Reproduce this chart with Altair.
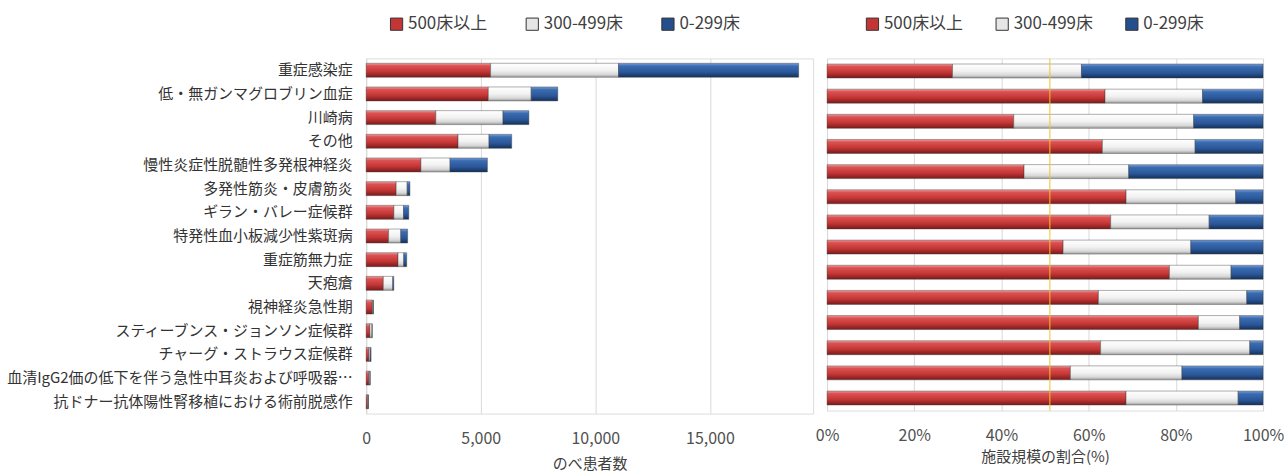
import altair as alt
import pandas as pd

categories = [
    "重症感染症",
    "低・無ガンマグロブリン血症",
    "川崎病",
    "その他",
    "慢性炎症性脱髄性多発根神経炎",
    "多発性筋炎・皮膚筋炎",
    "ギラン・バレー症候群",
    "特発性血小板減少性紫斑病",
    "重症筋無力症",
    "天疱瘡",
    "視神経炎急性期",
    "スティーブンス・ジョンソン症候群",
    "チャーグ・ストラウス症候群",
    "血清IgG2価の低下を伴う急性中耳炎および呼吸器…",
    "抗ドナー抗体陽性腎移植における術前脱感作",
]
beds = ["500床以上", "300-499床", "0-299床"]
v500 = [5430, 5330, 3040, 4010, 2390, 1310, 1210, 980, 1390, 750, 270, 165, 120, 120, 60]
v300 = [5580, 1870, 2930, 1350, 1270, 480, 420, 530, 250, 410, 30, 90, 55, 45, 30]
v0 = [7860, 1160, 1130, 990, 1630, 120, 230, 300, 130, 45, 17, 8, 40, 10, 10]
share_categories = categories[:14]
avg_share = [0.511]
count_ticks = [0, 5000, 10000, 15000]
share_ticks = [0, 0.2, 0.4, 0.6, 0.8, 1.0]

rows = []
for i, c in enumerate(categories):
    for j, (s, vals) in enumerate(zip(beds, [v500, v300, v0])):
        rows.append({"cat": c, "series": s, "order": j, "value": vals[i]})
df = pd.DataFrame(rows)
df_right = df[df["cat"].isin(share_categories)]

FONT = "Noto Sans CJK JP"


def grad(stops):
    return {
        "gradient": "linear",
        "x1": 0, "x2": 0, "y1": 0, "y2": 1,
        "stops": [{"offset": o, "color": c} for o, c in stops],
    }


red_g = grad([(0, "#f0a0a0"), (0.18, "#dc5252"), (0.6, "#c43636"), (1, "#7a1a1a")])
white_g = grad([(0, "#ffffff"), (0.5, "#f2f2f2"), (0.8, "#d8d8d8"), (1, "#9a9a9a")])
blue_g = grad([(0, "#7aa0d8"), (0.2, "#3a6cb2"), (0.65, "#2a5696"), (1, "#14305a")])

bar_color = {
    "condition": [
        {"test": "datum.series === '500床以上'", "value": red_g},
        {"test": "datum.series === '300-499床'", "value": white_g},
    ],
    "value": blue_g,
}
legend_scale = alt.Scale(domain=beds, range=["#c43636", "#e6e6e6", "#244e8c"])


def legend(x, pad):
    return alt.Legend(
        title=None, orient="none", legendX=x, legendY=-43, direction="horizontal",
        symbolType="square", symbolSize=150, symbolStrokeColor="#333",
        symbolStrokeWidth=1, symbolOpacity=1, labelFontSize=17, labelFont=FONT,
        labelColor="#404040", columnPadding=pad, labelOffset=3,
    )


# ---------------- left chart: counts ----------------
ly = alt.Y("cat:N", sort=categories, title=None,
           scale=alt.Scale(paddingInner=0, paddingOuter=0),
           axis=alt.Axis(labelFontSize=15, labelFont=FONT, labelColor="#333",
                         labelPadding=14, ticks=False, domainColor="#d9d9d9",
                         labelLimit=500))
lx_scale = alt.Scale(domain=[0, 19500], nice=False)
lx_axis = alt.Axis(values=count_ticks, format=",.0f", grid=True, gridColor="#d9d9d9",
                   domain=False, ticks=False, labelFontSize=16, labelFont=FONT,
                   labelColor="#505050", labelPadding=17, labelFlush=False,
                   title="のべ患者数",
                   titleFontSize=15, titleFont=FONT, titleFontWeight="normal",
                   titleColor="#404040", titlePadding=10)

left_bars = alt.Chart(df).mark_bar(size=14, stroke="#3a3a3a", strokeWidth=0.6,
                                   strokeOpacity=0.7).encode(
    x=alt.X("value:Q", stack="zero", scale=lx_scale, axis=lx_axis),
    y=ly,
    detail="series:N",
    order=alt.Order("order:Q"),
    color=bar_color,
)
left_legend = alt.Chart(df).transform_filter("false").mark_square(
    stroke="#333", strokeWidth=1).encode(
    x=alt.X("value:Q", scale=lx_scale, axis=lx_axis),
    y=ly,
    color=alt.Color("series:N", scale=legend_scale, legend=legend(22, 36)),
)
left = alt.layer(left_bars, left_legend).properties(width=448, height=356)

# ---------------- right chart: shares ----------------
ry = alt.Y("cat:N", sort=share_categories, title=None,
           scale=alt.Scale(paddingInner=0, paddingOuter=0), axis=None)
rx_scale = alt.Scale(domain=[0, 1], nice=False)
rx_axis = alt.Axis(values=share_ticks, format=".0%", grid=True, gridColor="#d9d9d9",
                   domain=False, ticks=False, labelFontSize=16, labelFont=FONT,
                   labelColor="#505050", labelPadding=17, labelFlush=False,
                   title="施設規模の割合(%)",
                   titleFontSize=15, titleFont=FONT, titleFontWeight="normal",
                   titleColor="#404040", titlePadding=6)

right_bars = alt.Chart(df_right).mark_bar(size=14, stroke="#3a3a3a", strokeWidth=0.6,
                                          strokeOpacity=0.7).encode(
    x=alt.X("value:Q", stack="normalize", scale=rx_scale, axis=rx_axis),
    y=ry,
    detail="series:N",
    order=alt.Order("order:Q"),
    color=bar_color,
)
right_rule = alt.Chart(pd.DataFrame({"avg": avg_share})).mark_rule(
    color="#f2c12e", strokeWidth=1).encode(x=alt.X("avg:Q", scale=rx_scale, axis=rx_axis))
right_legend = alt.Chart(df_right).transform_filter("false").mark_square(
    stroke="#333", strokeWidth=1).encode(
    x=alt.X("value:Q", scale=rx_scale, axis=rx_axis),
    y=ry,
    color=alt.Color("series:N", scale=legend_scale, legend=legend(37, 30)),
)
right = alt.layer(right_bars, right_rule, right_legend).properties(width=437, height=353)

chart = alt.hconcat(left, right, spacing=0).resolve_scale(
    color="independent", x="independent", y="independent"
).resolve_legend(color="independent").properties(
    padding={"left": 5, "top": 14, "right": 2, "bottom": 0}
).configure_view(stroke=None).configure(font=FONT)

chart.save("out.html", embed_options={"renderer": "svg", "actions": False})
